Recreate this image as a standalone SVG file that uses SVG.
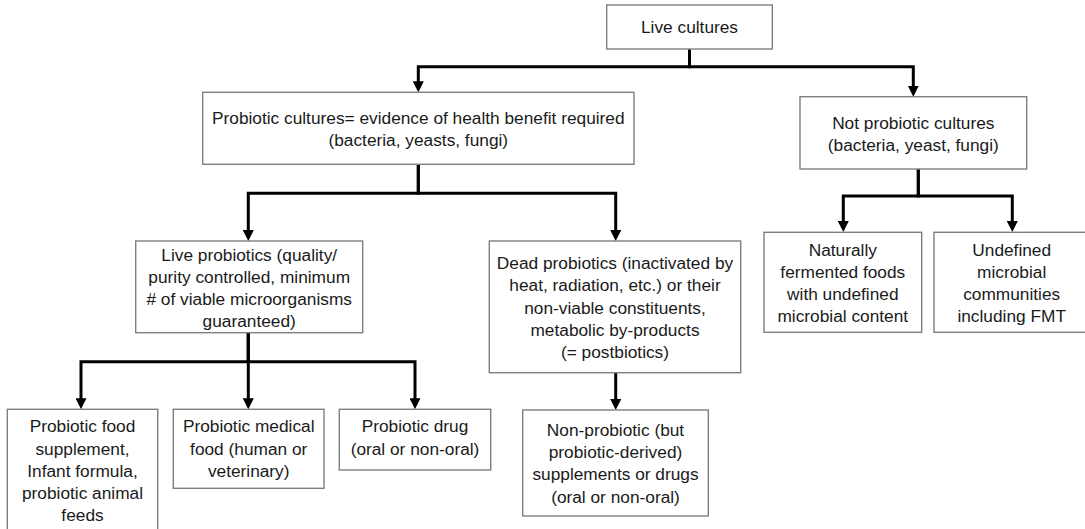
<svg xmlns="http://www.w3.org/2000/svg" width="1085" height="529" viewBox="0 0 1085 529">
<style>
.box{fill:#fff;stroke:#7f7f7f;stroke-width:1.4}
.t{font-family:"Liberation Sans",Arial,sans-serif;font-size:17.3px;fill:#1a1a1a;text-anchor:middle}
.c{fill:none;stroke:#000;stroke-width:3;stroke-linejoin:miter;marker-end:url(#ah)}
</style>
<defs>
<marker id="ah" viewBox="0 0 11 11" markerWidth="11" markerHeight="11" markerUnits="userSpaceOnUse" refX="1" refY="5.5" orient="auto">
<path d="M0,0 L11,5.5 L0,11 z" fill="#000"/>
</marker>
</defs>
<rect width="1085" height="529" fill="#fff"/>
<g id="connectors">
<path class="c" d="M689.5,49 V66.7 H418.3 V82.3"/>
<path class="c" d="M689.5,49 V66.7 H913.3 V86.7"/>
<path class="c" d="M418.3,164.3 V193.3 H248.3 V231"/>
<path class="c" d="M418.3,164.3 V193.3 H615.7 V231"/>
<path class="c" d="M248.3,332.7 V361.7 H81 V399.3"/>
<path class="c" d="M248.3,332.7 V399.3"/>
<path class="c" d="M248.3,332.7 V361.7 H415 V399.3"/>
<path class="c" d="M615.7,372.7 V400"/>
<path class="c" d="M918.3,169 V196 H843.3 V222"/>
<path class="c" d="M918.3,169 V196 H1012.3 V222"/>
</g>
<g id="live-cultures">
<rect class="box" x="606.7" y="5" width="165.6" height="44"/>
<text class="t" x="689.5" y="33">Live cultures</text>
</g>
<g id="probiotic-cultures">
<rect class="box" x="202.7" y="92.3" width="431.3" height="72"/>
<text class="t" x="418.3" y="123.8">Probiotic cultures= evidence of health benefit required</text>
<text class="t" x="418.3" y="146.3">(bacteria, yeasts, fungi)</text>
</g>
<g id="not-probiotic-cultures">
<rect class="box" x="800" y="96.7" width="226.7" height="72.3"/>
<text class="t" x="913.3" y="128.5">Not probiotic cultures</text>
<text class="t" x="913.3" y="151">(bacteria, yeast, fungi)</text>
</g>
<g id="live-probiotics">
<rect class="box" x="135.7" y="241" width="227" height="91.7"/>
<text class="t" x="249.2" y="261">Live probiotics (quality/</text>
<text class="t" x="249.2" y="283.2">purity controlled, minimum</text>
<text class="t" x="249.2" y="305.4"># of viable microorganisms</text>
<text class="t" x="249.2" y="327.4">guaranteed)</text>
</g>
<g id="dead-probiotics">
<rect class="box" x="489.3" y="241" width="251.4" height="131.7"/>
<text class="t" x="615" y="269">Dead probiotics (inactivated by</text>
<text class="t" x="615" y="291.3">heat, radiation, etc.) or their</text>
<text class="t" x="615" y="313.6">non-viable constituents,</text>
<text class="t" x="615" y="335.9">metabolic by-products</text>
<text class="t" x="615" y="358.2">(= postbiotics)</text>
</g>
<g id="naturally-fermented">
<rect class="box" x="764" y="232.3" width="157.7" height="100"/>
<text class="t" x="842.8" y="255.5">Naturally</text>
<text class="t" x="842.8" y="277.5">fermented foods</text>
<text class="t" x="842.8" y="299.5">with undefined</text>
<text class="t" x="842.8" y="321.5">microbial content</text>
</g>
<g id="undefined-communities">
<rect class="box" x="934" y="232.3" width="156" height="100"/>
<text class="t" x="1011.7" y="255.5">Undefined</text>
<text class="t" x="1011.7" y="277.5">microbial</text>
<text class="t" x="1011.7" y="299.5">communities</text>
<text class="t" x="1011.7" y="321.5">including FMT</text>
</g>
<g id="probiotic-food-supplement">
<rect class="box" x="7.3" y="409.3" width="150.4" height="130"/>
<text class="t" x="82.5" y="432.3">Probiotic food</text>
<text class="t" x="82.5" y="454.5">supplement,</text>
<text class="t" x="82.5" y="476.5">Infant formula,</text>
<text class="t" x="82.5" y="498.5">probiotic animal</text>
<text class="t" x="82.5" y="520.5">feeds</text>
</g>
<g id="probiotic-medical-food">
<rect class="box" x="173.3" y="409.3" width="150.7" height="79"/>
<text class="t" x="248.7" y="432.3">Probiotic medical</text>
<text class="t" x="248.7" y="454.5">food (human or</text>
<text class="t" x="248.7" y="476.5">veterinary)</text>
</g>
<g id="probiotic-drug">
<rect class="box" x="339.3" y="409.3" width="151.4" height="60.7"/>
<text class="t" x="415" y="432.3">Probiotic drug</text>
<text class="t" x="415" y="454.5">(oral or non-oral)</text>
</g>
<g id="non-probiotic">
<rect class="box" x="522.7" y="410" width="185.6" height="106"/>
<text class="t" x="615.5" y="435.8">Non-probiotic (but</text>
<text class="t" x="615.5" y="458">probiotic-derived)</text>
<text class="t" x="615.5" y="480.3">supplements or drugs</text>
<text class="t" x="615.5" y="502.6">(oral or non-oral)</text>
</g>
</svg>
